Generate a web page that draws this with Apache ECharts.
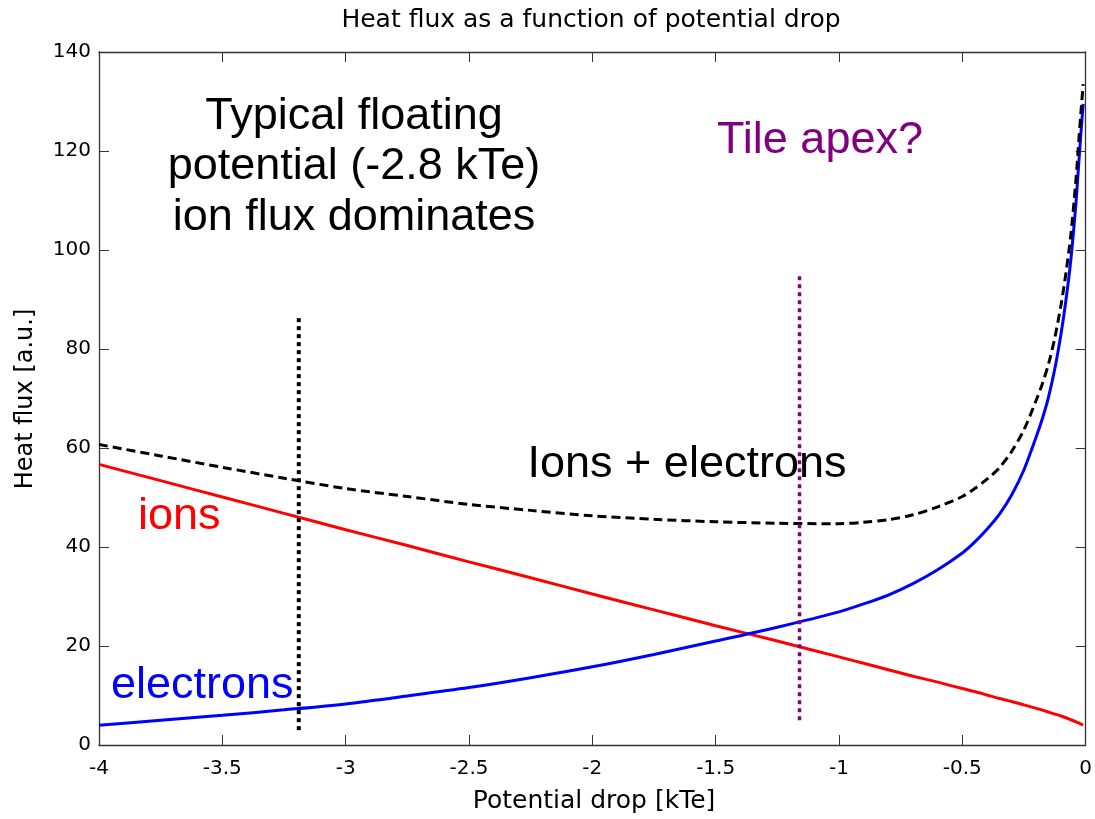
<!DOCTYPE html>
<html>
<head>
<meta charset="utf-8">
<script src="https://cdn.jsdelivr.net/npm/echarts@6/dist/echarts.min.js"></script>
<style>
  html, body { margin: 0; padding: 0; background: #ffffff; }
  #chart { width: 1095px; height: 819px; }
</style>
</head>
<body>
<div id="chart"></div>
<script>
// Potential drop across the sheath [kTe]
const potential = [-4, -3.75, -3.5, -3.25, -3, -2.75, -2.5, -2.25, -2, -1.75, -1.5, -1.25, -1,
  -0.9, -0.8, -0.7, -0.6, -0.5, -0.45, -0.4, -0.35, -0.3, -0.25, -0.2, -0.175, -0.15,
  -0.125, -0.1, -0.08, -0.06, -0.04, -0.03, -0.02, -0.01];

// Heat flux carried by ions [a.u.]
const ionFlux = [56.7, 53.4, 50.1, 46.8, 43.5, 40.3, 37.0, 33.8, 30.5, 27.3, 24.1, 21.0, 17.8,
  16.5, 15.2, 13.9, 12.7, 11.4, 10.8, 10.1, 9.4, 8.8, 8.1, 7.4, 7.05, 6.65,
  6.25, 5.85, 5.5, 5.1, 4.7, 4.5, 4.25, 4.0];

// Heat flux carried by electrons [a.u.]
const electronFlux = [4.0, 5.0, 6.0, 7.1, 8.3, 9.9, 11.6, 13.6, 15.8, 18.3, 21.0, 23.8, 26.9,
  28.5, 30.3, 32.6, 35.4, 38.8, 41.0, 43.6, 46.6, 50.5, 55.6, 62.3, 66.0, 70.4,
  76.0, 83.0, 89.8, 98.0, 109.0, 116.0, 123.0, 129.5];

// Total heat flux, ions + electrons [a.u.]
const totalFlux = [60.7, 58.4, 56.1, 53.9, 51.8, 50.2, 48.6, 47.4, 46.3, 45.6, 45.1, 44.8, 44.7,
  45.0, 45.5, 46.5, 48.1, 50.2, 51.8, 53.7, 56.0, 59.3, 63.7, 69.7, 73.05, 77.05,
  82.25, 88.85, 95.3, 103.1, 113.7, 120.5, 127.25, 133.5];

// Marker lines: typical floating potential and tile apex
const floatingMarker = [[-3.19, 3], [-3.19, 86.5]];
const apexMarker = [[-1.16, 5], [-1.16, 95]];

// Axis ranges and tick spacing
const xRange = [-4, 0];
const xStep = 0.5;
const yRange = [0, 140];
const yStep = 20;

const pairs = (xs, ys) => xs.map((x, i) => [x, ys[i]]);

const chart = echarts.init(document.getElementById('chart'), null, { renderer: 'canvas' });

const axisColor = '#333333';
const tickFont = { fontFamily: 'DejaVu Sans', fontSize: 20, color: '#000000' };
const annotFont = 'Liberation Sans, Arial, sans-serif';

// Box frame: every axis keeps to its own edge, with ticks pointing into the plot
const frameAxis = {
  axisLine: { show: true, onZero: false, lineStyle: { color: axisColor, width: 1.3 } },
  axisTick: { show: true, inside: true, length: 10, lineStyle: { color: axisColor, width: 1 } },
  splitLine: { show: false }
};

const curve = (name, ys, color, z, dash) => ({
  name: name, type: 'line', data: pairs(potential, ys),
  showSymbol: false, symbol: 'none', z: z, smooth: 0.3,
  lineStyle: { color: color, width: 3, type: dash || 'solid' }
});

chart.setOption({
  animation: false,
  backgroundColor: '#ffffff',
  grid: { left: 99, right: 4, top: 52, bottom: 74, containLabel: false },
  xAxis: [
    Object.assign({}, frameAxis, {
      type: 'value', min: xRange[0], max: xRange[1], interval: xStep, position: 'bottom',
      axisLabel: Object.assign({ margin: 14 }, tickFont)
    }),
    Object.assign({}, frameAxis, {
      type: 'value', min: xRange[0], max: xRange[1], interval: xStep, position: 'top',
      axisLabel: { show: false }
    })
  ],
  yAxis: [
    Object.assign({}, frameAxis, {
      type: 'value', min: yRange[0], max: yRange[1], interval: yStep, position: 'left',
      axisLabel: Object.assign({ margin: 8 }, tickFont)
    }),
    Object.assign({}, frameAxis, {
      type: 'value', min: yRange[0], max: yRange[1], interval: yStep, position: 'right',
      axisLabel: { show: false }
    })
  ],
  series: [
    curve('ions', ionFlux, '#ff0000', 3),
    curve('electrons', electronFlux, '#0000ff', 3),
    curve('Ions + electrons', totalFlux, '#000000', 4, [9, 5]),
    {
      name: 'floating', type: 'line', data: floatingMarker,
      showSymbol: false, symbol: 'none', z: 5,
      lineStyle: { color: '#000000', width: 4, type: [4, 4] }
    },
    {
      name: 'apex', type: 'line', data: apexMarker,
      showSymbol: false, symbol: 'none', z: 5,
      lineStyle: { color: '#800080', width: 3.5, type: [4, 4] }
    }
  ],
  graphic: [
    {
      type: 'text', x: 591, y: 20, z: 10,
      style: { text: 'Heat flux as a function of potential drop', fontFamily: 'DejaVu Sans',
        fontSize: 25, fill: '#000000', align: 'center', verticalAlign: 'middle' }
    },
    {
      type: 'text', x: 594, y: 801, z: 10,
      style: { text: 'Potential drop [kTe]', fontFamily: 'DejaVu Sans', fontSize: 25,
        fill: '#000000', align: 'center', verticalAlign: 'middle' }
    },
    {
      type: 'text', x: 26, y: 399, rotation: Math.PI / 2, z: 10,
      style: { text: 'Heat flux [a.u.]', fontFamily: 'DejaVu Sans', fontSize: 24,
        fill: '#000000', align: 'center', verticalAlign: 'middle' }
    },
    {
      type: 'text', x: 354, y: 167, z: 1,
      style: { text: 'Typical floating\npotential (-2.8 kTe)\nion flux dominates',
        fontFamily: annotFont, fontSize: 45, lineHeight: 50.5, fill: '#000000',
        align: 'center', verticalAlign: 'middle' }
    },
    {
      type: 'text', x: 820, y: 141, z: 1,
      style: { text: 'Tile apex?', fontFamily: annotFont, fontSize: 45, fill: '#800080',
        align: 'center', verticalAlign: 'middle' }
    },
    {
      type: 'text', x: 687, y: 465, z: 1,
      style: { text: 'Ions + electrons', fontFamily: annotFont, fontSize: 45, fill: '#000000',
        align: 'center', verticalAlign: 'middle' }
    },
    {
      type: 'text', x: 138, y: 517, z: 1,
      style: { text: 'ions', fontFamily: annotFont, fontSize: 45, fill: '#ff0000',
        align: 'left', verticalAlign: 'middle' }
    },
    {
      type: 'text', x: 111, y: 686, z: 1,
      style: { text: 'electrons', fontFamily: annotFont, fontSize: 45, fill: '#0000ff',
        align: 'left', verticalAlign: 'middle' }
    }
  ]
});
</script>
</body>
</html>
